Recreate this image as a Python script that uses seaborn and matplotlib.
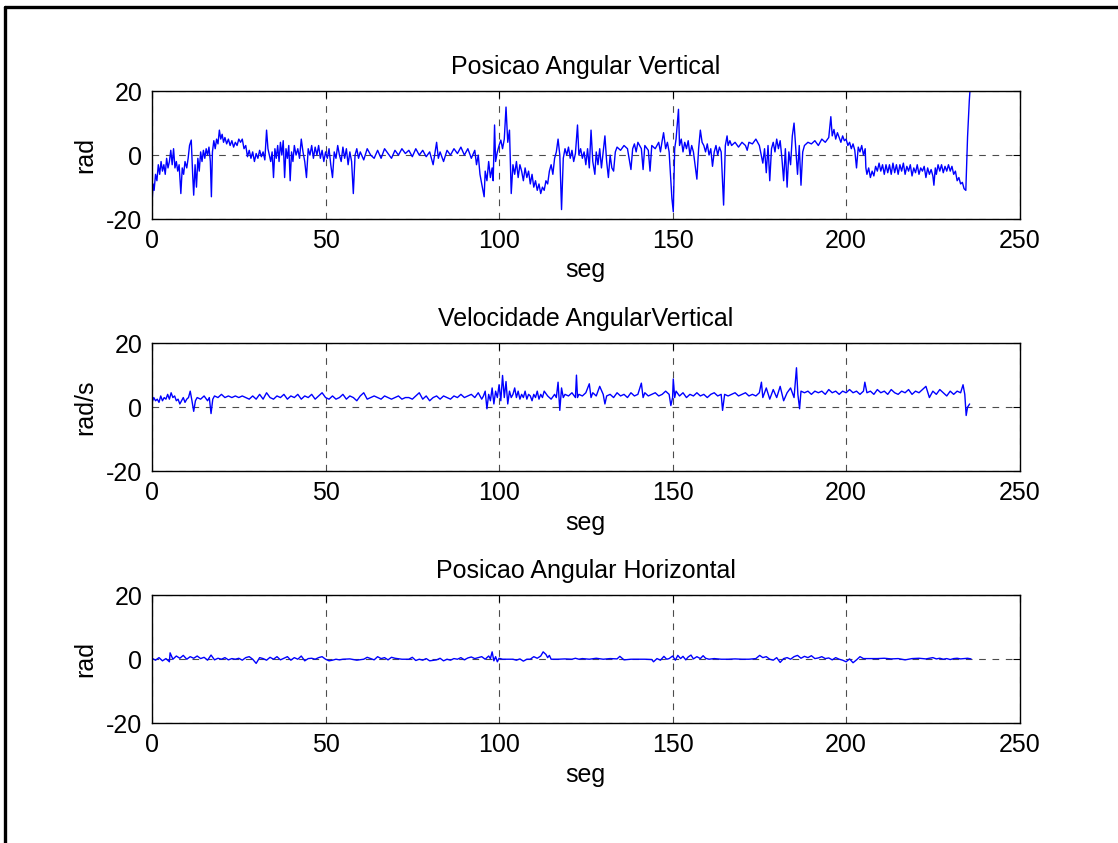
import numpy as np
import pandas as pd
import seaborn as sns
import matplotlib.pyplot as plt
from matplotlib.lines import Line2D

# Posicao Angular Vertical (rad)
t_pos_v = [
    0, 0.3, 0.6, 1.0, 1.4, 1.8, 2.2, 2.6, 3.0, 3.4,
    3.8, 4.2, 4.6, 5.0, 5.4, 5.8, 6.2, 6.6, 7.0, 7.4,
    7.8, 8.3, 8.7, 9.1, 9.5, 10.0, 10.4, 10.8, 11.3, 11.7,
    12.0, 12.4, 12.8, 13.2, 13.6, 14.0, 14.4, 14.8, 15.2, 15.6,
    16.0, 16.4, 16.8, 17.1, 17.4, 17.8, 18.2, 18.6, 19.0, 19.4,
    19.8, 20.2, 20.6, 21.0, 21.5, 22.0, 22.5, 23.0, 23.5, 24.0,
    24.5, 25.0, 25.5, 26.0, 26.5, 27.0, 27.5, 28.0, 28.5, 29.0,
    29.5, 30.0, 30.5, 31.0, 31.5, 32.0, 32.5, 33.0, 33.4, 33.8,
    34.2, 34.6, 35.0, 35.4, 35.8, 36.2, 36.6, 37.0, 37.4, 37.8,
    38.2, 38.6, 39.0, 39.4, 39.8, 40.2, 40.6, 41.0, 41.5, 42.0,
    42.5, 43.0, 43.5, 44.0, 44.5, 45.0, 45.5, 46.0, 46.5, 47.0,
    47.5, 48.0, 48.5, 49.0, 49.5, 50.0, 50.5, 51.0, 51.5, 52.0,
    52.5, 53.0, 53.5, 54.0, 54.5, 55.0, 55.5, 56.0, 56.5, 57.0,
    57.5, 58.0, 58.5, 59.0, 59.5, 60.0, 61.0, 62.0, 63.0, 64.0,
    65, 66, 67, 68, 69, 70, 71, 72, 73, 74,
    75, 76, 77, 78, 79, 80, 81, 82, 82.5, 83,
    84, 85, 86, 87, 88, 89, 90, 91, 92, 93,
    93.5, 94, 94.5, 95, 95.7, 96, 96.5, 97, 97.5, 98,
    98.3, 98.7, 99, 99.5, 100, 100.5, 101, 101.5, 102, 102.5,
    103, 103.5, 104, 104.5, 105, 105.5, 106, 106.5, 107, 107.5,
    108, 108.5, 109, 109.5, 110, 110.5, 111, 111.5, 112, 112.5,
    113, 113.5, 114, 114.5, 115, 115.5, 116, 116.5, 117, 117.5,
    118, 118.5, 119, 119.5, 120, 120.5, 121, 121.5, 122, 122.6,
    123, 123.5, 124, 124.5, 125, 125.5, 126, 126.5, 127, 127.6,
    128, 128.5, 129, 129.5, 130, 130.5, 131, 131.5, 132, 132.5,
    133, 133.5, 134, 135, 136, 137, 138, 138.5, 139, 139.5,
    140, 141, 141.5, 142, 143, 143.5, 144, 145, 146, 146.5,
    147, 147.4, 148, 148.5, 149, 149.8, 150.2, 150.6, 151, 151.7,
    152, 152.5, 153, 153.5, 154, 154.5, 155, 155.5, 156, 157,
    157.5, 158, 158.5, 159, 159.5, 160, 160.5, 161, 161.5, 162,
    162.5, 163, 163.5, 164, 164.7, 165.2, 165.7, 166, 166.5, 167,
    168, 169, 170, 171, 171.5, 172, 173, 174, 175, 176,
    176.5, 177, 177.5, 178, 178.5, 179, 179.5, 180, 180.5, 181,
    181.5, 182, 182.5, 183, 183.5, 184, 184.5, 185, 185.5, 186,
    186.5, 187, 187.5, 188, 189, 190, 191, 192, 193, 194,
    195, 195.6, 196, 196.5, 197, 197.5, 198, 198.5, 199, 199.5,
    200, 200.5, 201, 201.5, 202, 202.5, 203, 203.5, 204, 204.5,
    205, 205.5, 205.7, 206, 206.5, 207, 207.5, 208, 208.5, 209,
    209.5, 210, 210.5, 211, 211.5, 212, 212.5, 213, 213.5, 214,
    214.5, 215, 215.5, 216, 216.5, 217, 217.5, 218, 218.5, 219,
    219.5, 220, 220.5, 221, 221.5, 222, 222.5, 223, 223.5, 224,
    224.5, 225, 225.3, 225.7, 226, 226.5, 227, 227.5, 228, 228.5,
    229, 229.5, 230, 230.5, 231, 231.5, 232, 232.5, 233, 233.5,
    234, 234.5, 235, 235.5, 236,
]
pos_v = [
    -15, -9, -11, -6, -8, -3, -6, -2, -5, -3,
    -6, -1, -4, -2, 1.5, -3, 2, -4, -2, -5,
    -3, -12, -4, -6, -2, -4, -1, 3, 4.7, -6,
    -12.5, -3, -10, -1, -5, 1, -2, 1.5, -1, 2,
    0, 2.5, -2, -13, 1, 4.5, 2, 5, 3.5, 7.8,
    5, 6.5, 4, 5.5, 3.5, 5, 3, 4.5, 2.5, 4,
    3, 5, 4, 5, 2, 3, -0.5, 1.5, -1, 1,
    -2, 0.5, -1, 1.5, -0.5, 1, -1.5, 7.8, 2, 0,
    -2, 1, -7, 2, -1, 3, -2, 4, 0, 4.5,
    -7, 2, -1, 3, -8, 1, -2, 3, 0, 2,
    -1, 5, 1, -2, -7, 2, 0, 3, -1, 2.5,
    0, 3, -1, 1.5, -2, 1, -1, 2, -3, -7,
    1, -1, 3, 0, -2, 2.5, -1, 2, -3, 1,
    -2, -12, 0, 2, -1, 1, -1.5, 2, 0, -1,
    1.5, -1, 2, 0.5, -1, 1.5, 0, 2, 0.5, 1.5,
    -0.5, 2, 0, 1.5, -0.5, 1, -3, 4, -1, 1,
    -2, 1.5, 0, 2, 0.5, 2.5, 0, 2, -1, 1.5,
    -3, 0, -6, -9, -13, -5, -8, -2, -7, -4,
    -8, 9.4, -2, 1, 3, 4.7, 2, 5, 15, 4,
    7.8, -12, -3, -6, -2, -7, -3, -5, -8, -4,
    -7, -5, -9, -6, -10, -8, -11, -9, -12, -10,
    -11, -8, -9, -5, -3, -6, -1, 1, 5, 0,
    -17, -1, 2, 0, 2.5, -1, 1.5, -2, 0.5, 9.4,
    0, 2, -1, 1, -3, 2, -4, 7.8, -2, -6,
    1, -3, 2, -4, 1, 6, -2, -7, 0, -4,
    -5, 1, 2.5, 1.5, 3, 2, -4.5, 2, 3.5, 1,
    4, 2, -4.5, 3, 1.5, -5, 3, 2, 4, 1,
    4.5, 7, 2, 4, 1, -13.5, -17.7, 2, 5, 14.3,
    3, 5, 1, 4, 2, 4.5, 0, 3, 1, -7.5,
    2, 7.8, 4, 3, 1, 3.5, 0, 2, -3.5, 1,
    3, 0, 2.5, 1, -15.6, 3, 6, 3, 4.5, 3,
    4, 2.5, 4, 3, 1.5, 4, 3.5, 5, 3, -2.5,
    2, -5.5, 3, -8, 2, 4, 1, 5, 2, 4.5,
    -1, -8, 2, -10, 1, -3, 6, 10, 2, -6,
    3, -9.4, 1, 3, 4, 3.5, 4.5, 3, 5, 4,
    5.5, 12, 6, 8, 5, 7, 5.5, 4, 6, 4.5,
    5, 3, 4, 2, 3.5, 1.5, -4, 2.5, 1, 3,
    0, 2, -4, -6, -4, -7, -5, -6.5, -3.5, -5,
    -2.5, -5, -3, -6, -3, -5.5, -3, -6, -2.5, -5.5,
    -3, -6, -3, -5, -2.5, -6, -3.5, -5, -3, -6.5,
    -4, -5.5, -3, -6, -4, -5, -3.5, -7, -4, -6,
    -4.5, -6.5, -9.4, -4, -6, -3, -5, -3, -5.5, -3.5,
    -5, -3, -5, -3.5, -6, -5, -8, -7, -9, -8.5,
    -10.5, -11, 5.7, 17, 25,
]

# Velocidade Angular Vertical (rad/s)
t_vel_v = [
    0, 0.5, 1, 1.5, 2, 2.5, 3, 3.5, 4, 4.5,
    5, 5.5, 6, 6.5, 7, 7.5, 8, 8.5, 9, 9.5,
    10, 10.5, 11, 11.5, 12, 12.5, 13, 14, 15, 16,
    16.5, 17, 17.5, 18, 19, 20, 21, 22, 23, 24,
    25, 26, 27, 28, 29, 30, 31, 32, 33, 34,
    35, 36, 37, 38, 39, 40, 41, 42, 43, 44,
    45, 46, 47, 48, 49, 50, 51, 52, 53, 54,
    55, 56, 57, 58, 59, 60, 61, 62, 63, 64,
    65, 66, 67, 68, 69, 70, 71, 72, 73, 74,
    75, 76, 77, 78, 79, 80, 81, 82, 83, 84,
    85, 86, 87, 88, 89, 90, 91, 92, 93, 94,
    95, 95.5, 96, 96.5, 97, 97.5, 98, 98.5, 99, 99.5,
    100, 100.5, 101, 101.5, 102, 102.5, 103, 103.5, 104, 104.5,
    105, 105.5, 106, 106.5, 107, 107.5, 108, 108.5, 109, 109.5,
    110, 110.5, 111, 111.5, 112, 112.5, 113, 114, 115, 116,
    116.5, 117, 117.5, 118, 118.5, 119, 120, 121, 122, 122.3,
    122.6, 123, 124, 125, 126, 126.5, 127, 128, 129, 130,
    130.5, 131, 132, 133, 134, 135, 136, 137, 138, 139,
    140, 141, 141.5, 142, 143, 144, 145, 146, 147, 148,
    149, 149.5, 150, 150.2, 150.6, 151, 152, 153, 154, 155,
    156, 157, 158, 159, 160, 161, 162, 163, 164, 164.4,
    165, 166, 167, 168, 169, 170, 171, 172, 173, 174,
    175, 175.6, 176, 177, 178, 179, 180, 181, 182, 183,
    184, 185, 185.7, 186.1, 186.6, 187, 188, 189, 190, 191,
    192, 193, 194, 195, 196, 197, 198, 199, 200, 201,
    202, 203, 204, 205, 205.4, 206, 207, 208, 209, 210,
    211, 212, 213, 214, 215, 216, 217, 218, 219, 220,
    221, 222, 223, 224, 225, 226, 227, 228, 229, 230,
    231, 232, 233, 233.7, 234.2, 234.6, 235, 235.6,
]
vel_v = [
    1.5, 3, 2, 2.5, 1.5, 3.5, 2, 3, 2.5, 4,
    2.5, 4.5, 3, 3.5, 2, 2.5, 1, 2, 3, 1.5,
    2.5, 3, 5, 2, -1.3, 2, 3, 2.5, 3.5, 2,
    3, -2, 2.5, 3.5, 3, 4, 3, 3.5, 3, 3.5,
    3, 3.5, 3, 2.5, 3.5, 2.5, 4, 2.5, 4.5, 3,
    2.5, 3.5, 3, 4, 2.5, 3.5, 3, 4, 2.5, 3.5,
    3, 4, 2.5, 3.5, 4.5, 3, 2.5, 3.5, 2.5, 3,
    4, 2.5, 3.5, 3, 2, 3.5, 4.5, 2.5, 3, 3.5,
    3, 2.5, 3.5, 3, 2.5, 3, 3.5, 2.5, 3, 3,
    2.5, 3.5, 4.5, 2.5, 3.5, 2, 3, 3.5, 2.5, 3.5,
    3, 2.5, 3.5, 3, 4, 3, 3.5, 4, 3, 4.5,
    2.5, 3.5, 5, -0.5, 4, 2, 6, 1, 5, 3,
    7, 2, 9.9, 3, 8, 1, 5, 3, 4, 6,
    3, 5, 2.5, 4, 3, 5, 2.5, 4, 3.5, 2,
    4, 3, 5, 2.5, 4, 3, 5, 3.5, 2.5, 4,
    3, 7.8, -1, 6, 3, 4, 3.5, 4.5, 3, 10,
    3, 4, 3.5, 4.5, 7.3, 3, 4.5, 3.5, 6.5, 4,
    1, 3.5, 4, 3, 4.5, 3.5, 4, 3, 4.5, 3.5,
    4, 7.5, 3, 4.5, 3.5, 4, 4.5, 3.5, 4, 5,
    4, 0.5, 3, 8.8, 3, 5, 3.5, 4.5, 3, 4,
    3.5, 4.5, 3.5, 4, 3, 4, 4.5, 3.5, 4, -1,
    4, 3.5, 4, 4.5, 3.5, 4, 4.5, 3.5, 4, 3.5,
    4.5, 7.8, 3, 6, 2.5, 5.5, 3, 6.5, 2, 4.5,
    6, 3, 12.3, 4, -0.5, 5, 4.5, 5, 4, 5,
    4.5, 5, 4, 5.5, 4.5, 5, 4, 5, 4.5, 5.5,
    4.5, 5, 4, 5, 7.8, 4.5, 5, 4, 5.5, 4.5,
    5, 4, 5.5, 4.5, 4, 5, 4.5, 5.5, 4, 5,
    4.5, 5.5, 6.5, 3, 5, 4, 5.5, 4.5, 3.5, 5,
    4, 5, 4.5, 7, 4, -2.6, 0, 1,
]

# Posicao Angular Horizontal (rad)
t_pos_h = [
    0, 1, 2, 3, 4, 5, 5.2, 6, 7, 8,
    9, 10, 11, 12, 13, 14, 15, 16, 17, 18,
    19, 20, 21, 22, 23, 24, 25, 26, 27, 28,
    29, 30, 31, 32, 33, 34, 35, 36, 37, 38,
    39, 40, 41, 42, 43, 44, 45, 46, 47, 48,
    49, 50, 51, 52, 53, 54, 55, 57, 59, 61,
    62, 63, 64, 65, 66, 67, 68, 69, 70, 72,
    74, 75, 76, 77, 78, 79, 80, 82, 83, 84,
    85, 86, 87, 88, 89, 90, 91, 92, 93, 94,
    95, 96, 97, 97.5, 98, 98.5, 99, 99.5, 100, 101,
    103, 104, 105, 106, 107, 108, 109, 110, 111, 112,
    112.7, 113.5, 114, 114.5, 115, 117, 119, 121, 122, 123,
    124, 126, 128, 130, 132, 134, 134.8, 136, 138, 140,
    142, 144, 144.5, 145.5, 146.5, 147.5, 148.3, 149, 150, 150.8,
    151.5, 152.3, 153, 153.8, 154.5, 155.3, 156, 157, 158, 158.8,
    159.5, 160.5, 162, 164, 166, 168, 170, 172, 174, 175.1,
    176, 177, 178, 179, 180, 181, 182, 183, 184, 185,
    186, 187, 188, 189, 190, 191, 192, 193, 194, 195,
    196, 197, 198, 199, 200, 201, 202, 203, 204, 205,
    207, 209, 211, 213, 215, 217, 219, 221, 223, 225,
    226, 227, 228, 229, 230, 231, 232, 233, 234, 235, 236,
]
pos_h = [
    0.3, -0.3, 0.5, -0.5, 0.2, -0.8, 2, 0, 1, 0.3,
    1.2, 0, 0.8, 0.3, 1, 0.2, 0.6, -0.3, 1.3, -0.2,
    0.3, 0, 0.5, -0.2, 0.2, 0, 0.3, -0.3, 0.5, 0.8,
    0, -1.3, 0.5, 0.2, -0.3, 0.6, 0, 0.8, -0.2, 0.3,
    0.8, -0.3, 0.5, 0, 1, -0.5, 0.2, 0.3, 0, 0.5,
    0.8, 0, -0.5, -0.3, 0, -0.2, 0, 0.1, -0.3, 0,
    0.6, 0.2, -0.2, 0.8, 0.2, 0.5, -0.2, 0.6, 0.3, 0,
    0, 0.6, -0.4, 0, -0.3, 0.2, -0.5, -0.2, 0.3, -0.5,
    0, -0.3, 0.2, 0, 0.5, -0.2, 0.4, 0.7, 0.2, 0.5,
    0.8, 0, 1, 0.2, 2.3, -0.5, 0.8, -0.8, 0.3, 0,
    0, 0, -0.3, 0.1, -0.6, 0, 0, 0.8, 0.3, 1,
    2.3, 1.5, 0.5, 1.2, 0, 0, 0.1, 0, 0.3, 0,
    0.2, 0, 0.3, 0, 0.2, 0.1, 0.9, -0.2, 0, 0,
    0, -0.1, -0.8, 0.2, -0.3, 0.9, 0, 0.2, 1, -0.3,
    1.2, 0.2, 0.9, -0.2, 0.7, 1.3, 0.1, 0.8, 0.2, 1.1,
    0.3, 0, 0.2, 0, 0, 0.1, 0, 0, 0.2, 1.2,
    0.5, 0.8, 0, -0.3, 0.5, -1, 0.2, 0.5, 0, 0.8,
    1.2, 0.3, 0.9, 0.5, 1.1, 0.2, 0.4, 0.8, 0.2, 0.4,
    -0.2, 0.5, 0, -0.3, -0.8, 0.1, -1.1, -0.2, 0.8, 0.2,
    0.2, 0.2, 0.3, 0.1, 0.2, -0.2, 0.2, 0.3, 0.1, 0.5,
    0.1, 0.3, 0, 0.2, -0.1, 0.2, 0.3, 0.1, 0.2, 0.3, 0.1,
]

titles = ['Posicao Angular Vertical', 'Velocidade AngularVertical', 'Posicao Angular Horizontal']
ylabels = ['rad', 'rad/s', 'rad']
x_ticks = [0, 50, 100, 150, 200, 250]
y_ticks = [-20, 0, 20]

sns.set_style('white')
plt.rcParams['font.family'] = ['Liberation Sans', 'DejaVu Sans']
plt.rcParams['font.size'] = 18
plt.rcParams['axes.unicode_minus'] = False
plt.rcParams['text.color'] = 'black'
plt.rcParams['axes.labelcolor'] = 'black'
plt.rcParams['xtick.color'] = 'black'
plt.rcParams['ytick.color'] = 'black'

fig = plt.figure(figsize=(11.18, 8.43), dpi=100)
bottoms = [0.740, 0.441, 0.142]
series = [(t_pos_v, pos_v), (t_vel_v, vel_v), (t_pos_h, pos_h)]

for i, (tt, vv) in enumerate(series):
    ax = fig.add_axes([0.136, bottoms[i], 0.776, 0.152])
    df = pd.DataFrame({'t': tt, 'v': vv})
    sns.lineplot(data=df, x='t', y='v', ax=ax, color='#0000ff', linewidth=1.0,
                 estimator=None, sort=False)
    ax.set_xlim(0, 250)
    ax.set_ylim(-20, 20)
    ax.set_xticks(x_ticks)
    ax.set_yticks(y_ticks)
    ax.grid(True, color='black', linestyle=(0, (6, 6)), linewidth=0.8, alpha=0.7)
    ax.tick_params(direction='in', length=5, top=True, right=True, labelsize=18, pad=7,
                   colors='black')
    for sp in ax.spines.values():
        sp.set_color('black')
        sp.set_linewidth(1.0)
    ax.set_title(titles[i], fontsize=18, pad=12, color='black')
    ax.set_xlabel('seg', fontsize=18, labelpad=4, color='black')
    ax.set_ylabel(ylabels[i], fontsize=18, labelpad=6, color='black')

# frame lines left and top, as in the export
fig.add_artist(Line2D([0.0045, 0.0045], [0, 0.992], color='black', linewidth=2.4, transform=fig.transFigure))
fig.add_artist(Line2D([0.0045, 1], [0.992, 0.992], color='black', linewidth=2.4, transform=fig.transFigure))

fig.savefig('out.png', dpi=100)
